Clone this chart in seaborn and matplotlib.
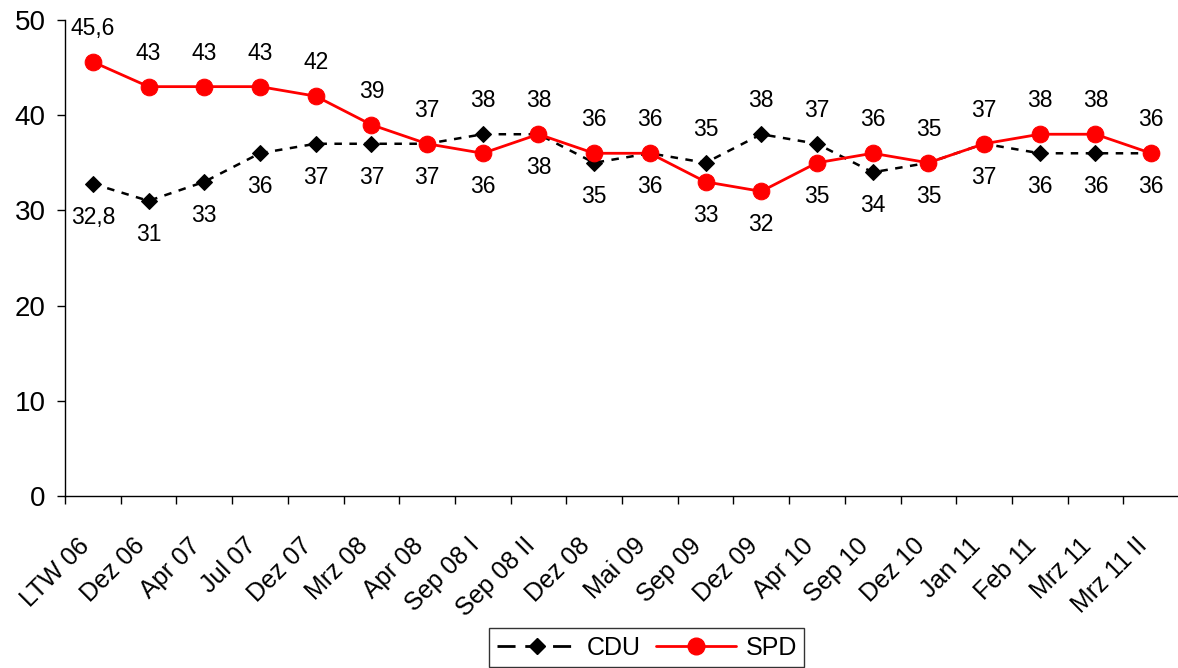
import matplotlib
matplotlib.use('Agg')
import matplotlib.pyplot as plt
import matplotlib.transforms as mtransforms
import seaborn as sns
import pandas as pd
from matplotlib.lines import Line2D

# Umfragewerte (Prozent)
categories = ['LTW 06', 'Dez 06', 'Apr 07', 'Jul 07', 'Dez 07', 'Mrz 08', 'Apr 08',
              'Sep 08 I', 'Sep 08 II', 'Dez 08', 'Mai 09', 'Sep 09', 'Dez 09', 'Apr 10',
              'Sep 10', 'Dez 10', 'Jan 11', 'Feb 11', 'Mrz 11', 'Mrz 11 II']
cdu = [32.8, 31, 33, 36, 37, 37, 37, 38, 38, 35, 36, 35, 38, 37, 34, 35, 37, 36, 36, 36]
spd = [45.6, 43, 43, 43, 42, 39, 37, 36, 38, 36, 36, 33, 32, 35, 36, 35, 37, 38, 38, 36]

df = pd.DataFrame({'pos': range(len(categories)), 'Umfrage': categories,
                   'CDU': cdu, 'SPD': spd})

sns.set_style('white')
plt.rcParams['font.family'] = ['Liberation Sans', 'DejaVu Sans']
plt.rcParams['text.color'] = 'black'
plt.rcParams['xtick.color'] = 'black'
plt.rcParams['ytick.color'] = 'black'

fig = plt.figure(figsize=(11.78, 6.68), dpi=100)
ax = fig.add_axes([65 / 1178, 172 / 668, 1114 / 1178, 476 / 668])

# CDU: schwarz gestrichelt mit Rauten
sns.lineplot(data=df, x='pos', y='CDU', ax=ax, color='black', linewidth=1.8,
             linestyle=(0, (3, 3)), marker='D', markersize=8,
             markeredgecolor='black', markerfacecolor='black')
# SPD: rot mit Kreisen
sns.lineplot(data=df, x='pos', y='SPD', ax=ax, color='#ff0000', linewidth=2,
             marker='o', markersize=12, markeredgecolor='#ff0000',
             markerfacecolor='#ff0000')

# Datenbeschriftungen: hoeherer Wert oben, niedrigerer unten
def fmt(v):
    return f'{v:g}'.replace('.', ',')

for i, (c, s) in enumerate(zip(cdu, spd)):
    spd_up = s >= c
    ax.annotate(fmt(s), (i, s), xytext=(0, 24 if spd_up else -24),
                textcoords='offset points', ha='center', va='center', fontsize=16.5)
    ax.annotate(fmt(c), (i, c), xytext=(0, -24 if spd_up else 24),
                textcoords='offset points', ha='center', va='center', fontsize=16.5)

ax.set_xlim(-0.5, len(categories) - 0.5)
ax.set_ylim(0, 50)
ax.set_yticks(range(0, 51, 10))
ax.tick_params(axis='y', labelsize=20, length=6, width=1, direction='out', left=True, pad=8)

ax.set_xticks(range(len(categories)))
ax.set_xticklabels(categories, rotation=45, ha='right', rotation_mode='anchor', fontsize=18)
ax.tick_params(axis='x', which='major', length=0, pad=27)
shift = mtransforms.ScaledTranslation(-0.16, 0, fig.dpi_scale_trans)
for lbl in ax.get_xticklabels():
    lbl.set_transform(lbl.get_transform() + shift)
ax.set_xticks([i - 0.5 for i in range(len(categories) + 1)], minor=True)
ax.tick_params(axis='x', which='minor', length=6, width=1, direction='out', bottom=True)

ax.set_xlabel('')
ax.set_ylabel('')
for side in ['top', 'right']:
    ax.spines[side].set_visible(False)
for side in ['left', 'bottom']:
    ax.spines[side].set_color('black')
    ax.spines[side].set_linewidth(1)

handles = [
    Line2D([], [], color='black', linewidth=2, linestyle=(0, (6.5, 3.5)), marker='D', markersize=8),
    Line2D([], [], color='#ff0000', linewidth=2, marker='o', markersize=12),
]
leg = fig.legend(handles, ['CDU', 'SPD'], loc='upper center', bbox_to_anchor=(0.549, 0.078),
                 ncol=2, fontsize=18, frameon=True, fancybox=False, handlelength=3.2,
                 handletextpad=0.4, columnspacing=0.6, borderpad=0.3)
leg.get_frame().set_edgecolor('black')
leg.get_frame().set_linewidth(1)

fig.savefig('out.png', dpi=100)
